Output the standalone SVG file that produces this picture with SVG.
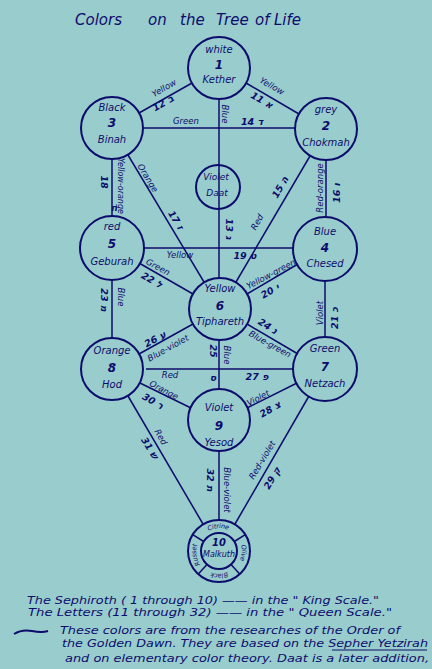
<svg xmlns="http://www.w3.org/2000/svg" width="432" height="669" viewBox="0 0 432 669">
<style>
.ln{stroke:#0c0c6c;fill:none;stroke-width:1.5}
.nd{stroke:#0c0c6c;fill:none;stroke-width:2}
text{font-family:"DejaVu Sans","Liberation Sans",sans-serif;fill:#0c0c6c;font-style:italic}
.nt{font-size:10px;text-anchor:middle}
.num{font-size:12px;text-anchor:middle;font-weight:bold}
.lb{font-size:8.5px;text-anchor:middle;dominant-baseline:central}
.hb{font-size:9.5px;text-anchor:middle;dominant-baseline:central;font-weight:bold}
.rg{font-size:6.5px;text-anchor:middle;dominant-baseline:central}
.note{font-size:11px}
.ttl{font-size:15px}
</style>
<defs>
<path id="ring" d="M236.32,568.32 A24.5,24.5 0 1 1 201.68,533.68 A24.5,24.5 0 1 1 236.32,568.32"/>
</defs>
<rect width="432" height="669" fill="#99cccc"/>

<g id="title">
<text class="ttl" x="75" y="25">Colors</text>
<text class="ttl" x="148" y="25">on</text>
<text class="ttl" x="180" y="25">the</text>
<text class="ttl" x="216" y="25">Tree</text>
<text class="ttl" x="255" y="25">of</text>
<text class="ttl" x="274" y="25">Life</text>
</g>

<g id="connectors" class="ln">
<line x1="192" y1="83" x2="139" y2="113"/>
<line x1="246" y1="83" x2="299" y2="114"/>
<line x1="219" y1="99" x2="219" y2="278"/>
<line x1="143" y1="128" x2="295" y2="128"/>
<line x1="112" y1="159" x2="112" y2="217"/>
<line x1="326" y1="160" x2="326" y2="217"/>
<line x1="128" y1="155" x2="204" y2="282"/>
<line x1="310" y1="156" x2="236" y2="282"/>
<line x1="143" y1="248" x2="294" y2="248"/>
<line x1="139" y1="263" x2="193" y2="294"/>
<line x1="298" y1="264" x2="247" y2="294"/>
<line x1="112" y1="279" x2="112" y2="338"/>
<line x1="325" y1="281" x2="325" y2="338"/>
<line x1="193" y1="324" x2="139" y2="354"/>
<line x1="247" y1="324" x2="298" y2="354"/>
<line x1="219" y1="340" x2="219" y2="389"/>
<line x1="146" y1="369" x2="294" y2="369"/>
<line x1="140" y1="383" x2="191" y2="408"/>
<line x1="297" y1="383" x2="247" y2="408"/>
<line x1="128" y1="396" x2="203" y2="524"/>
<line x1="309" y1="396" x2="235" y2="524"/>
<line x1="219" y1="451" x2="219" y2="520"/>
</g>

<g id="path-labels">
<text class="lb" transform="translate(272,86) rotate(30)">Yellow</text>
<text class="hb" transform="translate(262,100) rotate(30)">11  א</text>
<text class="lb" transform="translate(164,88) rotate(-30)">Yellow</text>
<text class="hb" transform="translate(163,103) rotate(-30)">12 ב</text>
<text class="lb" transform="translate(225,114) rotate(90)">Blue</text>
<text class="hb" transform="translate(229,229) rotate(90)">13 ג</text>
<text class="lb" x="186" y="121">Green</text>
<text class="hb" x="252" y="121">14 ד</text>
<text class="hb" transform="translate(280,187) rotate(-60)">15 ה</text>
<text class="lb" transform="translate(257,222) rotate(-60)">Red</text>
<text class="lb" transform="translate(320,188) rotate(-90)">Red-orange</text>
<text class="hb" transform="translate(336,193) rotate(-90)">16 ו</text>
<text class="lb" transform="translate(148,178) rotate(59)">Orange</text>
<text class="hb" transform="translate(176,220) rotate(58)">17 ז</text>
<text class="hb" transform="translate(104,182) rotate(90)">18</text>
<text class="hb" x="114" y="207">ח</text>
<text class="lb" transform="translate(120,186) rotate(90)" style="font-size:8px">Yellow-orange</text>
<text class="lb" x="180" y="255">Yellow</text>
<text class="hb" x="245" y="255">19 ט</text>
<text class="lb" transform="translate(271,274) rotate(-28)">Yellow-green</text>
<text class="hb" transform="translate(270,291) rotate(-30)">20 י</text>
<text class="lb" transform="translate(320,313) rotate(-90)">Violet</text>
<text class="hb" transform="translate(334,318) rotate(-90)">21 כ</text>
<text class="lb" transform="translate(158,267) rotate(28)">Green</text>
<text class="hb" transform="translate(152,280) rotate(30)">22 ל</text>
<text class="hb" transform="translate(104,300) rotate(90)">23 מ</text>
<text class="lb" transform="translate(121,297) rotate(90)">Blue</text>
<text class="hb" transform="translate(268,326) rotate(32)">24 נ</text>
<text class="lb" transform="translate(270,344) rotate(29)">Blue-green</text>
<text class="hb" transform="translate(213,351) rotate(90)">25</text>
<text class="hb" x="213" y="377">ס</text>
<text class="lb" transform="translate(227,355) rotate(90)">Blue</text>
<text class="hb" transform="translate(155,339) rotate(-28)">26 ע</text>
<text class="lb" transform="translate(168,348) rotate(-29)">Blue-violet</text>
<text class="lb" x="170" y="375">Red</text>
<text class="hb" x="257" y="376">27 פ</text>
<text class="lb" transform="translate(258,398) rotate(-28)">Violet</text>
<text class="hb" transform="translate(270,409) rotate(-30)">28 צ</text>
<text class="lb" transform="translate(262,460) rotate(-59)">Red-violet</text>
<text class="hb" transform="translate(272,478) rotate(-59)">29 ק</text>
<text class="lb" transform="translate(164,390) rotate(28)">Orange</text>
<text class="hb" transform="translate(153,401) rotate(30)">30 ר</text>
<text class="hb" transform="translate(150,448) rotate(58)">31 ש</text>
<text class="lb" transform="translate(161,437) rotate(60)">Red</text>
<text class="hb" transform="translate(210,480) rotate(90)">32 ת</text>
<text class="lb" transform="translate(227,490) rotate(90)">Blue-violet</text>
</g>

<g id="kether">
<circle class="nd" cx="219" cy="68" r="31"/>
<text class="nt" x="219" y="53">white</text>
<text class="num" x="219" y="69">1</text>
<text class="nt" x="219" y="83">Kether</text>
</g>
<g id="chokmah">
<circle class="nd" cx="326" cy="129" r="31"/>
<text class="nt" x="326" y="113">grey</text>
<text class="num" x="326" y="130">2</text>
<text class="nt" x="326" y="146">Chokmah</text>
</g>
<g id="binah">
<circle class="nd" cx="112" cy="128" r="31"/>
<text class="nt" x="112" y="111">Black</text>
<text class="num" x="112" y="127">3</text>
<text class="nt" x="112" y="143">Binah</text>
</g>
<g id="daath">
<circle class="nd" cx="218" cy="187" r="22"/>
<text class="nt" x="216" y="180" style="font-size:9px">Violet</text>
<text class="nt" x="217" y="196" style="font-size:9px">Daat</text>
</g>
<g id="chesed">
<circle class="nd" cx="325" cy="249" r="32"/>
<text class="nt" x="325" y="235">Blue</text>
<text class="num" x="325" y="252">4</text>
<text class="nt" x="325" y="267">Chesed</text>
</g>
<g id="geburah">
<circle class="nd" cx="112" cy="248" r="32"/>
<text class="nt" x="112" y="230">red</text>
<text class="num" x="112" y="248">5</text>
<text class="nt" x="112" y="265">Geburah</text>
</g>
<g id="tiphareth">
<circle class="nd" cx="220" cy="309" r="31"/>
<text class="nt" x="220" y="292">Yellow</text>
<text class="num" x="220" y="310">6</text>
<text class="nt" x="220" y="325">Tiphareth</text>
</g>
<g id="netzach">
<circle class="nd" cx="325" cy="369" r="32"/>
<text class="nt" x="325" y="352">Green</text>
<text class="num" x="325" y="371">7</text>
<text class="nt" x="325" y="387">Netzach</text>
</g>
<g id="hod">
<circle class="nd" cx="112" cy="369" r="31"/>
<text class="nt" x="112" y="354">Orange</text>
<text class="num" x="112" y="372">8</text>
<text class="nt" x="112" y="388">Hod</text>
</g>
<g id="yesod">
<circle class="nd" cx="219" cy="420" r="31"/>
<text class="nt" x="219" y="411">Violet</text>
<text class="num" x="219" y="430">9</text>
<text class="nt" x="219" y="446">Yesod</text>
</g>
<g id="malkuth">
<circle class="nd" cx="219" cy="551" r="31"/>
<circle class="nd" cx="219" cy="551" r="18"/>
<g class="ln">
<line x1="203.7" y1="541.5" x2="192.7" y2="534.6"/>
<line x1="234.3" y1="541.5" x2="245.3" y2="534.6"/>
<line x1="231" y1="564.4" x2="239.7" y2="574"/>
<line x1="207" y1="564.4" x2="198.3" y2="574"/>
</g>
<text class="rg"><textPath href="#ring" startOffset="96.25">Citrine</textPath></text>
<text class="rg"><textPath href="#ring" startOffset="138">Olive</textPath></text>
<text class="rg"><textPath href="#ring" startOffset="19.25">Black</textPath></text>
<text class="rg"><textPath href="#ring" startOffset="54.3">Russet</textPath></text>
<text class="num" x="219" y="546" style="font-size:10px">10</text>
<text class="nt" x="219" y="557" style="font-size:8px">Malkuth</text>
</g>

<g id="notes">
<text class="note" x="27" y="604" textLength="352" lengthAdjust="spacingAndGlyphs">The Sephiroth ( 1 through 10) —— in the " King Scale."</text>
<text class="note" x="28" y="616" textLength="364" lengthAdjust="spacingAndGlyphs">The Letters (11 through 32) —— in the " Queen Scale."</text>
<path class="ln" d="M14,634 Q22,629 32,631 T48,631" style="stroke-width:2"/>
<text class="note" x="60" y="634" textLength="340" lengthAdjust="spacingAndGlyphs">These colors are from the researches of the Order of</text>
<text class="note" x="62" y="647" textLength="366" lengthAdjust="spacingAndGlyphs">the Golden Dawn. They are based on the Sepher Yetzirah</text>
<line class="ln" x1="332" y1="650" x2="427" y2="650" style="stroke-width:1"/>
<text class="note" x="65" y="662" textLength="364" lengthAdjust="spacingAndGlyphs">and on elementary color theory. Daat is a later addition,</text>
</g>
</svg>
